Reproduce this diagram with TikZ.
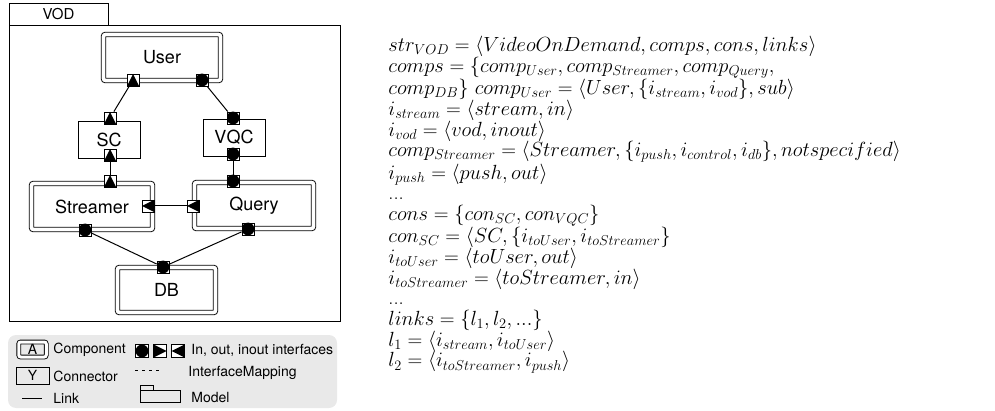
\RequirePackage{fix-cm}
\documentclass[tikz,border=0pt]{standalone}
\usepackage{fontspec}
\setsansfont{TeX Gyre Heros}
\usetikzlibrary{positioning}

\begin{document}
\begin{tikzpicture}[x=1pt, y=-1pt, line width=0.9pt]
    \tikzset{
        comp/.style={draw, double, double distance=3.6pt, rounded corners=2pt, inner sep=0pt,
            font=\sffamily\fontsize{18}{20}\selectfont},
        conn/.style={draw, inner sep=0pt, font=\sffamily\fontsize{18}{20}\selectfont},
        iface/.style={draw, fill=white, line width=0.9pt, minimum size=12pt, inner sep=0pt},
        ifup/.style={iface, path picture={\fill[black] (path picture bounding box.south west) -- (path picture bounding box.south east) -- (path picture bounding box.north) -- cycle;}},
        ifleft/.style={iface, path picture={\fill[black] (path picture bounding box.north east) -- (path picture bounding box.south east) -- (path picture bounding box.west) -- cycle;}},
        ifright/.style={iface, path picture={\fill[black] (path picture bounding box.north west) -- (path picture bounding box.south west) -- (path picture bounding box.east) -- cycle;}},
        ifio/.style={iface, path picture={\fill[black] (path picture bounding box.center) circle (6.4pt);}},
        link/.style={line width=1pt},
        legtext/.style={anchor=west, inner sep=0pt, font=\sffamily\fontsize{14}{16}\selectfont}
    }
    \useasboundingbox (0,0) rectangle (995,411);

    % model VOD
    \node[draw, minimum width=99pt, minimum height=22pt, inner sep=0pt, font=\sffamily\fontsize{15}{16}\selectfont] (tab) at (58.5,14) {VOD};
    \draw (9,25) rectangle (340,321);

    % components and connectors
    \node[comp, minimum width=117pt, minimum height=46pt] (User) at (162,57.5) {User};
    \node[conn, minimum width=62pt, minimum height=37pt] (SC) at (109,139.5) {SC};
    \node[conn, minimum width=62pt, minimum height=37pt] (VQC) at (234,137.5) {VQC};
    \node[comp, minimum width=121pt, minimum height=46pt] (Streamer) at (92,206.5) {Streamer};
    \node[comp, minimum width=119pt, minimum height=46pt] (Query) at (254,205.5) {Query};
    \node[comp, minimum width=98pt, minimum height=45pt] (DB) at (166.5,290) {DB};

    % interfaces
    \node[ifup] (userstream) at (133,80) {};
    \node[ifio] (uservod) at (202,80) {};
    \node[ifup] (scuser) at (110,118) {};
    \node[ifup] (scstreamer) at (110,155) {};
    \node[ifio] (vqcuser) at (233,118) {};
    \node[ifio] (vqcquery) at (233,154) {};
    \node[ifup] (streamercontrol) at (110,181) {};
    \node[ifleft] (streamerpush) at (148,206) {};
    \node[ifio] (streamerdb) at (85,230) {};
    \node[ifio] (queryvqc) at (233,181) {};
    \node[ifleft] (querypush) at (193,206) {};
    \node[ifio] (querydb) at (248,229) {};
    \node[ifio] (dbaccess) at (163,267) {};

    % links
    \draw[link] (userstream) -- (scuser);
    \draw[link] (uservod) -- (vqcuser);
    \draw[link] (scstreamer) -- (streamercontrol);
    \draw[link] (vqcquery) -- (queryvqc);
    \draw[link] (streamerpush) -- (querypush);
    \draw[link] (streamerdb) -- (dbaccess);
    \draw[link] (querydb) -- (dbaccess);

    % legend
    \fill[gray!17, rounded corners=8pt] (8,335) rectangle (337,408);
    \node[comp, minimum width=27.5pt, minimum height=15pt, line width=0.9pt, double distance=3pt, font=\sffamily\fontsize{14}{16}\selectfont] (legA) at (32.5,349.5) {A};
    \node[legtext] (legcomp) at (53,350) {Component};
    \node[conn, minimum width=33pt, minimum height=17pt, line width=0.9pt, font=\sffamily\fontsize{14}{16}\selectfont] (legY) at (32.5,375.5) {Y};
    \node[legtext] (legconn) at (53,376) {Connector};
    \coordinate (linka) at (22,398);
    \coordinate (linkb) at (42,398);
    \draw[link] (linka) -- (linkb);
    \node[legtext] (leglink) at (53,398) {Link};
    \node[ifio, minimum size=13pt] (legio) at (142,351) {};
    \node[ifright, minimum size=13pt] (legout) at (160,351) {};
    \node[ifleft, minimum size=13pt] (legin) at (178,351) {};
    \node[legtext] (legiface) at (191,350) {In, out, inout interfaces};
    \coordinate (mapa) at (135,370);
    \coordinate (mapb) at (160,370);
    \draw[line width=1pt, dash pattern=on 3pt off 4pt] (mapa) -- (mapb);
    \node[legtext] (legmap) at (188,373) {InterfaceMapping};
    \draw[line width=0.9pt] (140,390) rectangle (180,402);
    \draw[line width=0.9pt] (140,390) -- (140,385) -- (153,385) -- (153,390);
    \node[legtext] (legmodel) at (191,398) {Model};

    % formal description
    \node[anchor=north west, align=left, inner sep=0pt,
        font=\fontsize{20.5}{20.7}\selectfont] (formal) at (388,36) {%
        $str_{VOD} = \langle VideoOnDemand, comps, cons, links\rangle$\\
        $comps = \{comp_{User}, comp_{Streamer}, comp_{Query},$\\
        $comp_{DB}\}\ comp_{User} = \langle User, \{i_{stream}, i_{vod}\}, sub\rangle$\\
        $i_{stream} = \langle stream, in\rangle$\\
        $i_{vod} = \langle vod, inout\rangle$\\
        $comp_{Streamer} = \langle Streamer, \{i_{push}, i_{control}, i_{db}\}, notspecified\rangle$\\
        $i_{push} = \langle push, out\rangle$\\
        ...\\
        $cons = \{con_{SC}, con_{VQC}\}$\\
        $con_{SC} = \langle SC, \{i_{toUser}, i_{toStreamer}\}$\\
        $i_{toUser} = \langle toUser, out\rangle$\\
        $i_{toStreamer} = \langle toStreamer, in\rangle$\\
        ...\\
        $links = \{l_1, l_2, ...\}$\\
        $l_1 = \langle i_{stream}, i_{toUser}\rangle$\\
        $l_2 = \langle i_{toStreamer}, i_{push}\rangle$};
\end{tikzpicture}
\end{document}
